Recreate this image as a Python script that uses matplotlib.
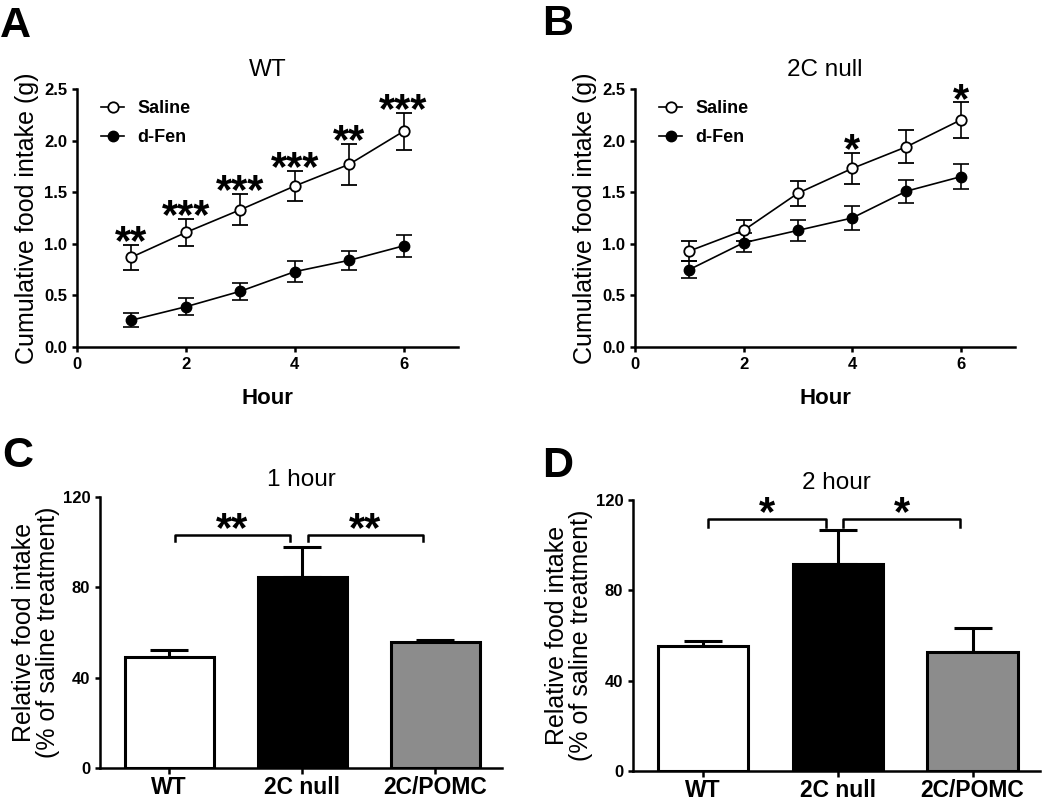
import matplotlib
matplotlib.use('Agg')
import matplotlib.pyplot as plt
from matplotlib.lines import Line2D

plt.rcParams['font.family'] = ['Liberation Sans', 'DejaVu Sans']

# ---- data ----
hours = [1, 2, 3, 4, 5, 6]

wt_saline = [0.87, 1.11, 1.33, 1.56, 1.77, 2.09]
wt_saline_err = [0.12, 0.13, 0.15, 0.15, 0.20, 0.18]
wt_dfen = [0.26, 0.39, 0.54, 0.73, 0.84, 0.98]
wt_dfen_err = [0.065, 0.08, 0.08, 0.10, 0.09, 0.11]
wt_stars = ['**', '***', '***', '***', '**', '***']

null_saline = [0.93, 1.13, 1.49, 1.73, 1.94, 2.20]
null_saline_err = [0.10, 0.10, 0.12, 0.15, 0.16, 0.17]
null_dfen = [0.75, 1.01, 1.13, 1.25, 1.51, 1.65]
null_dfen_err = [0.08, 0.09, 0.10, 0.12, 0.11, 0.12]
null_stars = ['', '', '', '*', '', '*']

groups = ['WT', '2C null', '2C/POMC']
bar_colors = ['white', 'black', '#8c8c8c']

h1_vals = [49.1, 84.6, 55.6]
h1_err = [3.0, 13.3, 1.2]
h1_stars = ['**', '**']

h2_vals = [55.4, 91.5, 52.5]
h2_err = [2.1, 15.2, 10.6]
h2_stars = ['*', '*']

W, H = 1050, 802
fig = plt.figure(figsize=(W / 100, H / 100), dpi=100)


def box(l, t, r, b):
    return [l / W, 1 - b / H, (r - l) / W, (b - t) / H]


def style_axes(ax):
    for s in ['top', 'right']:
        ax.spines[s].set_visible(False)
    for s in ['left', 'bottom']:
        ax.spines[s].set_linewidth(1.8)
    ax.tick_params(direction='out', width=1.8, length=3.5)
    for lab in ax.get_xticklabels() + ax.get_yticklabels():
        lab.set_fontweight('bold')


def line_panel(ax, title, sal, sal_err, dfen, dfen_err, stars):
    ax.errorbar(hours, sal, yerr=sal_err, color='black', lw=1.2, capsize=6,
                capthick=1.2, elinewidth=1.2, marker='o', ms=7.5,
                mfc='white', mec='black', mew=1.3, zorder=3)
    ax.errorbar(hours, dfen, yerr=dfen_err, color='black', lw=1.2, capsize=6,
                capthick=1.2, elinewidth=1.2, marker='o', ms=7.5,
                mfc='black', mec='black', zorder=3)
    for x, y, e, s in zip(hours, sal, sal_err, stars):
        if s:
            ax.text(x, y + e - 0.09, s, ha='center', va='baseline',
                    fontsize=30, fontweight='bold')
    ax.set_xlim(0, 7)
    ax.set_ylim(0, 2.5)
    ax.set_xticks([0, 2, 4, 6])
    ax.set_yticks([0, 0.5, 1.0, 1.5, 2.0, 2.5])
    ax.set_yticklabels(['%.1f' % v for v in ax.get_yticks()])
    ax.tick_params(labelsize=12)
    ax.set_title(title, fontsize=17.5, pad=9)
    ax.set_xlabel('Hour', fontsize=16, fontweight='bold', labelpad=12)
    ax.set_ylabel('Cumulative food intake (g)', fontsize=18, labelpad=4)
    handles = [
        Line2D([], [], color='black', lw=1.2, marker='o', ms=7.5,
               mfc='white', mec='black', mew=1.3),
        Line2D([], [], color='black', lw=1.2, marker='o', ms=7.5,
               mfc='black', mec='black'),
    ]
    leg = ax.legend(handles, ['Saline', 'd-Fen'], loc='upper left',
                    frameon=False, fontsize=13, handlelength=1.3,
                    handletextpad=0.7, labelspacing=0.65,
                    bbox_to_anchor=(0.02, 1.02))
    for t in leg.get_texts():
        t.set_fontweight('bold')
    style_axes(ax)


def bar_panel(ax, title, vals, errs, stars, br_y, br_drop, star_y):
    xs = range(len(groups))
    ax.bar(xs, vals, width=0.67, color=bar_colors, edgecolor='black',
           linewidth=2.2, zorder=2)
    ax.errorbar(xs, vals, yerr=[[0] * len(errs), errs], fmt='none',
                ecolor='black', elinewidth=2.2, capsize=14, capthick=2.2,
                zorder=1)
    pairs = [(0, 1), (1, 2)]
    for (i, j), s in zip(pairs, stars):
        x0, x1 = i + 0.04, j - 0.09
        ax.plot([x0, x0, x1, x1], [br_y - br_drop, br_y, br_y, br_y - br_drop],
                color='black', lw=1.8, clip_on=False)
        ax.text((x0 + x1) / 2, star_y, s, ha='center', va='baseline',
                fontsize=30, fontweight='bold')
    ax.set_xlim(-0.52, 2.5)
    ax.set_ylim(0, 120)
    ax.set_yticks([0, 40, 80, 120])
    ax.set_xticks(list(xs))
    ax.set_xticklabels(groups)
    style_axes(ax)
    ax.tick_params(axis='y', labelsize=12)
    ax.tick_params(axis='x', labelsize=16.5, length=4, pad=2)
    ax.set_title(title, fontsize=17.5, pad=8)
    ax.set_ylabel('Relative food intake\n(% of saline treatment)',
                  fontsize=18, labelpad=2, linespacing=1.0)


axA = fig.add_axes(box(77, 89, 458, 347))
line_panel(axA, 'WT', wt_saline, wt_saline_err, wt_dfen, wt_dfen_err, wt_stars)

axB = fig.add_axes(box(635, 89, 1015, 347))
line_panel(axB, '2C null', null_saline, null_saline_err, null_dfen,
           null_dfen_err, null_stars)

axC = fig.add_axes(box(100, 497, 502, 768))
bar_panel(axC, '1 hour', h1_vals, h1_err, h1_stars, 103.0, 2.6, 100.5)

axD = fig.add_axes(box(633, 500, 1040, 771))
bar_panel(axD, '2 hour', h2_vals, h2_err, h2_stars, 111.6, 3.4, 108.8)

for lab, x, y in [('A', 0, 6), ('B', 542, 4), ('C', 2, 436), ('D', 542, 446)]:
    fig.text(x / W, 1 - y / H, lab, fontsize=31,
             fontweight='bold', ha='left', va='top')

fig.savefig('out.png', dpi=100)
